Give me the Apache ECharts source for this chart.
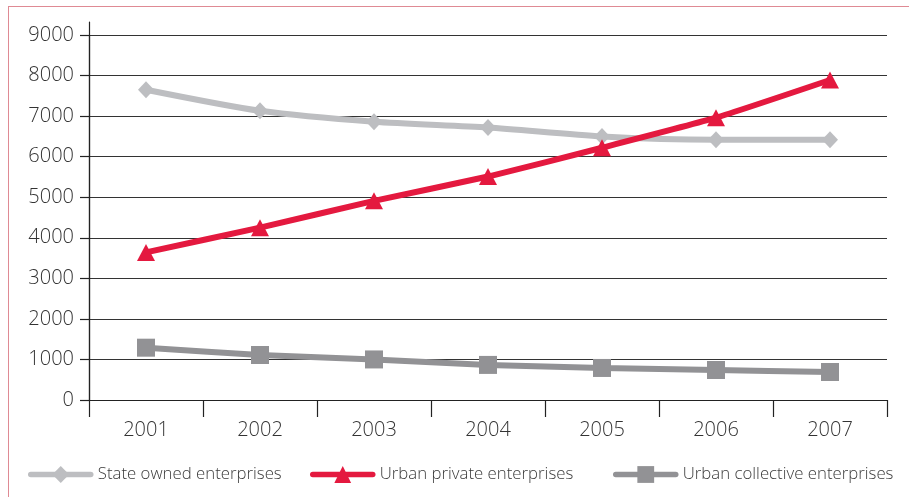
<!DOCTYPE html>
<html>
<head>
<meta charset="utf-8">
<script src="https://cdn.jsdelivr.net/npm/echarts@6/dist/echarts.min.js"></script>
<style>
html,body{margin:0;padding:0;background:#fff;}
#chart{position:absolute;left:0;top:0;width:909px;height:497px;}
#frame{position:absolute;left:8px;top:6px;width:901px;height:491px;border-top:1.5px solid #df8a94;border-left:1.5px solid #df8a94;box-sizing:border-box;pointer-events:none;}
</style>
</head>
<body>
<div id="chart"></div>
<div id="frame"></div>
<script>
const years = ['2001','2002','2003','2004','2005','2006','2007'];
const stateOwned = [7650, 7130, 6860, 6720, 6500, 6420, 6420];
const urbanPrivate = [3640, 4250, 4910, 5510, 6220, 6960, 7890];
const urbanCollective = [1290, 1110, 1000, 865, 790, 740, 690];
const seriesNames = ['State owned enterprises', 'Urban private enterprises', 'Urban collective enterprises'];

const FONT = "'Open Sans', 'Liberation Sans', sans-serif";
const chart = echarts.init(document.getElementById('chart'), null, {renderer: 'canvas'});

const legendBase = {
  orient: 'horizontal',
  top: 466,
  padding: 0,
  itemWidth: 60,
  itemHeight: 21,
  itemGap: 6,
  lineStyle: {width: 5.5, cap: 'round'},
  textStyle: {fontFamily: FONT, fontSize: 16.8, fontWeight: 300, color: '#3a3a3a', padding: [0,0,0,2]}
};

chart.setOption({
  animation: false,
  grid: [
    {left: 89, right: 22, top: 35, bottom: 97},
    {left: 89, right: 22, top: 22, bottom: 97}
  ],
  legend: [
    Object.assign({}, legendBase, {left: 28, data: [seriesNames[0]]}),
    Object.assign({}, legendBase, {left: 310, data: [seriesNames[1]]}),
    Object.assign({}, legendBase, {left: 613, data: [seriesNames[2]]})
  ],
  xAxis: [
    {
      type: 'category',
      data: years,
      boundaryGap: true,
      gridIndex: 0,
      axisLine: {show: true, lineStyle: {color: '#222', width: 1.2}},
      axisTick: {show: true, length: 17, alignWithLabel: false, lineStyle: {color: '#222', width: 1.2}},
      axisLabel: {margin: 20, fontFamily: FONT, fontSize: 20, fontWeight: 300, color: '#333'},
      splitLine: {show: false}
    },
    {type: 'category', data: years, gridIndex: 1, show: false}
  ],
  yAxis: [
    {
      type: 'value',
      min: 0, max: 9000, interval: 1000,
      gridIndex: 0,
      axisLine: {show: true, lineStyle: {color: '#222', width: 1.2}},
      axisTick: {show: true, length: 9, lineStyle: {color: '#222', width: 1.2}},
      axisLabel: {margin: 15, fontFamily: FONT, fontSize: 20, fontWeight: 300, color: '#333',
        formatter: function (v) { return String(v); }},
      splitLine: {show: true, lineStyle: {color: '#333', width: 1.2}}
    },
    {
      type: 'value', gridIndex: 1, min: 0, max: 1,
      axisLine: {show: true, lineStyle: {color: '#222', width: 1.2}},
      axisTick: {show: false}, axisLabel: {show: false}, splitLine: {show: false}
    }
  ],
  series: [
    {
      name: seriesNames[0], type: 'line', data: stateOwned,
      xAxisIndex: 0, yAxisIndex: 0,
      smooth: 0.25,
      symbol: 'diamond', symbolSize: [16, 17],
      lineStyle: {color: '#bdbec1', width: 6, cap: 'round'},
      itemStyle: {color: '#bdbec1'}
    },
    {
      name: seriesNames[1], type: 'line', data: urbanPrivate,
      xAxisIndex: 0, yAxisIndex: 0,
      smooth: 0.15,
      symbol: 'triangle', symbolSize: [18, 17],
      lineStyle: {color: '#e4193f', width: 6, cap: 'round'},
      itemStyle: {color: '#e4193f'}
    },
    {
      name: seriesNames[2], type: 'line', data: urbanCollective,
      xAxisIndex: 0, yAxisIndex: 0,
      smooth: 0.25,
      symbol: 'rect', symbolSize: 18,
      lineStyle: {color: '#929295', width: 6, cap: 'round'},
      itemStyle: {color: '#929295'}
    }
  ]
});
</script>
</body>
</html>
